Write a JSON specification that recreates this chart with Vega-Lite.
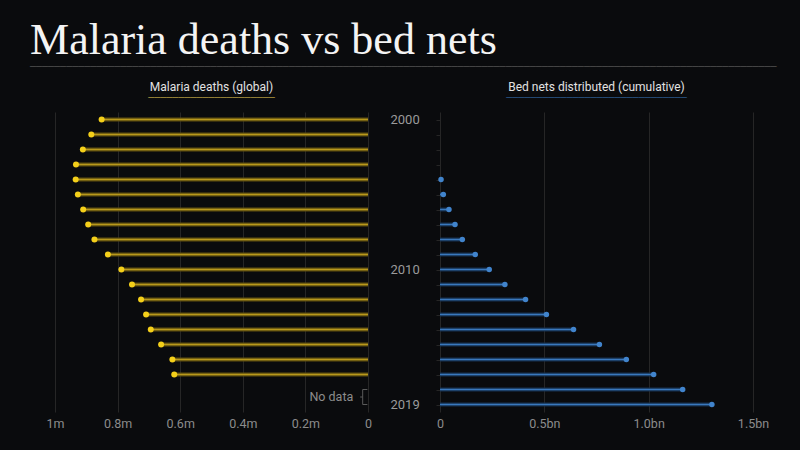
{
  "$schema": "https://vega.github.io/schema/vega-lite/v6.json",
  "background": "#0a0b0d",
  "padding": {"left": 30, "top": 19, "right": 24, "bottom": 20},
  "title": {
    "text": "Malaria deaths vs bed nets",
    "subtitle": "────────────────────────────────────────────────────────────────────────────────────────────────────────────────────────────",
    "anchor": "start",
    "dx": -16,
    "font": "Liberation Serif",
    "fontSize": 44,
    "fontWeight": "normal",
    "color": "#f4f4f4",
    "subtitleFont": "DejaVu Sans Mono",
    "subtitleFontSize": 10,
    "subtitleColor": "#4a4a4a",
    "subtitlePadding": -1,
    "offset": 9
  },
  "datasets": {
    "deaths": [
      {"year": 2000, "deaths": 851000},
      {"year": 2001, "deaths": 884000},
      {"year": 2002, "deaths": 911000},
      {"year": 2003, "deaths": 933000},
      {"year": 2004, "deaths": 934000},
      {"year": 2005, "deaths": 927000},
      {"year": 2006, "deaths": 910000},
      {"year": 2007, "deaths": 894000},
      {"year": 2008, "deaths": 874000},
      {"year": 2009, "deaths": 831000},
      {"year": 2010, "deaths": 788000},
      {"year": 2011, "deaths": 754000},
      {"year": 2012, "deaths": 725000},
      {"year": 2013, "deaths": 709000},
      {"year": 2014, "deaths": 694000},
      {"year": 2015, "deaths": 661000},
      {"year": 2016, "deaths": 625000},
      {"year": 2017, "deaths": 619000}
    ],
    "nets": [
      {"year": 2004, "nets": 5000000},
      {"year": 2005, "nets": 16000000},
      {"year": 2006, "nets": 43000000},
      {"year": 2007, "nets": 72000000},
      {"year": 2008, "nets": 107000000},
      {"year": 2009, "nets": 169000000},
      {"year": 2010, "nets": 236000000},
      {"year": 2011, "nets": 311000000},
      {"year": 2012, "nets": 410000000},
      {"year": 2013, "nets": 510000000},
      {"year": 2014, "nets": 640000000},
      {"year": 2015, "nets": 764000000},
      {"year": 2016, "nets": 893000000},
      {"year": 2017, "nets": 1024000000},
      {"year": 2018, "nets": 1163000000},
      {"year": 2019, "nets": 1303000000}
    ],
    "nodata": [
      {"label": "No data", "from": 2018, "to": 2019, "mid": 2018.5}
    ]
  },
  "bounds": "flush",
  "spacing": 72,
  "hconcat": [
    {
      "width": 313,
      "height": 300,
      "title": {
        "text": "Malaria deaths (global)",
        "subtitle": "─────────────────────"
      },
      "encoding": {
        "y": {
          "type": "quantitative",
          "scale": {"domain": [1999.5, 2019.5], "reverse": true, "nice": false, "zero": false},
          "axis": null
        }
      },
      "layer": [
        {
          "data": {"name": "deaths"},
          "mark": {"type": "rule", "color": "#5e4f10", "strokeWidth": 4},
          "encoding": {
            "y": {"field": "year", "type": "quantitative"},
            "x": {
              "field": "deaths",
              "type": "quantitative",
              "scale": {"domain": [0, 1000000], "reverse": true, "nice": false},
              "axis": {
                "values": [0, 200000, 400000, 600000, 800000, 1000000],
                "labelExpr": "datum.value == 0 ? '0' : datum.value == 1000000 ? '1m' : format(datum.value / 1000000, '.1f') + 'm'",
                "title": null
              }
            },
            "x2": {"datum": 0}
          }
        },
        {
          "data": {"name": "deaths"},
          "mark": {"type": "rule", "color": "#b8981c", "strokeWidth": 1.5},
          "encoding": {
            "y": {"field": "year", "type": "quantitative"},
            "x": {"field": "deaths", "type": "quantitative"},
            "x2": {"datum": 0}
          }
        },
        {
          "data": {"name": "deaths"},
          "mark": {"type": "circle", "color": "#f4cf1a", "size": 36, "opacity": 1},
          "encoding": {
            "y": {"field": "year", "type": "quantitative"},
            "x": {"field": "deaths", "type": "quantitative"}
          }
        },
        {
          "data": {"name": "nodata"},
          "mark": {"type": "rule", "color": "#5a5a5a", "strokeWidth": 1},
          "encoding": {
            "y": {"field": "from", "type": "quantitative"},
            "y2": {"field": "to"},
            "x": {"datum": 17000}
          }
        },
        {
          "data": {"name": "nodata"},
          "mark": {"type": "rule", "color": "#5a5a5a", "strokeWidth": 1},
          "encoding": {
            "y": {"field": "from", "type": "quantitative"},
            "x": {"datum": 17000},
            "x2": {"datum": 2000}
          }
        },
        {
          "data": {"name": "nodata"},
          "mark": {"type": "rule", "color": "#5a5a5a", "strokeWidth": 1},
          "encoding": {
            "y": {"field": "to", "type": "quantitative"},
            "x": {"datum": 17000},
            "x2": {"datum": 2000}
          }
        },
        {
          "data": {"name": "nodata"},
          "mark": {"type": "rule", "color": "#5a5a5a", "strokeWidth": 1},
          "encoding": {
            "y": {"field": "mid", "type": "quantitative"},
            "x": {"datum": 25000},
            "x2": {"datum": 17000}
          }
        },
        {
          "data": {"name": "nodata"},
          "mark": {"type": "text", "align": "right", "baseline": "middle", "color": "#8c8c8c", "fontSize": 12.5, "font": "Roboto"},
          "encoding": {
            "y": {"field": "mid", "type": "quantitative"},
            "x": {"datum": 47000},
            "text": {"field": "label"}
          }
        }
      ]
    },
    {
      "width": 313,
      "height": 300,
      "title": {
        "text": "Bed nets distributed (cumulative)",
        "subtitle": "──────────────────────────────",
        "subtitleColor": "#27507e"
      },
      "data": {"name": "nets"},
      "encoding": {
        "y": {
          "field": "year",
          "type": "quantitative",
          "scale": {"domain": [1999.5, 2019.5], "reverse": true, "nice": false, "zero": false},
          "axis": {
            "values": [2000, 2001, 2002, 2003, 2004, 2005, 2006, 2007, 2008, 2009, 2010, 2011, 2012, 2013, 2014, 2015, 2016, 2017, 2018, 2019],
            "labelExpr": "datum.value == 2000 || datum.value == 2010 || datum.value == 2019 ? format(datum.value, 'd') : ''",
            "title": null,
            "grid": false,
            "domain": false,
            "ticks": true,
            "tickSize": 4,
            "tickColor": "#262626",
            "labelAlign": "left",
            "labelPadding": 46,
            "labelFontSize": 13,
            "labelColor": "#9a9a9a"
          }
        },
        "x": {
          "field": "nets",
          "type": "quantitative",
          "scale": {"domain": [0, 1500000000], "nice": false},
          "axis": {
            "values": [0, 500000000, 1000000000, 1500000000],
            "labelExpr": "datum.value == 0 ? '0' : format(datum.value / 1000000000, '.1f') + 'bn'",
            "title": null
          }
        }
      },
      "layer": [
        {
          "mark": {"type": "rule", "color": "#16304f", "strokeWidth": 4},
          "encoding": {"x2": {"datum": 0}}
        },
        {
          "mark": {"type": "rule", "color": "#3a78bc", "strokeWidth": 1.5},
          "encoding": {"x2": {"datum": 0}}
        },
        {
          "mark": {"type": "circle", "color": "#4184cc", "size": 30, "opacity": 1}
        }
      ]
    }
  ],
  "config": {
    "font": "Roboto",
    "view": {"stroke": null},
    "title": {
      "font": "Roboto",
      "fontSize": 12,
      "fontWeight": "normal",
      "color": "#e2e2e2",
      "subtitleFont": "DejaVu Sans Mono",
      "subtitleFontSize": 10,
      "subtitleColor": "#a08a3a",
      "subtitlePadding": -1,
      "offset": 8
    },
    "axisX": {
      "grid": true,
      "gridColor": "#262626",
      "domain": false,
      "ticks": false,
      "labelFlush": false,
      "labelColor": "#8c8c8c",
      "labelFontSize": 12.5,
      "labelPadding": 5
    }
  }
}
